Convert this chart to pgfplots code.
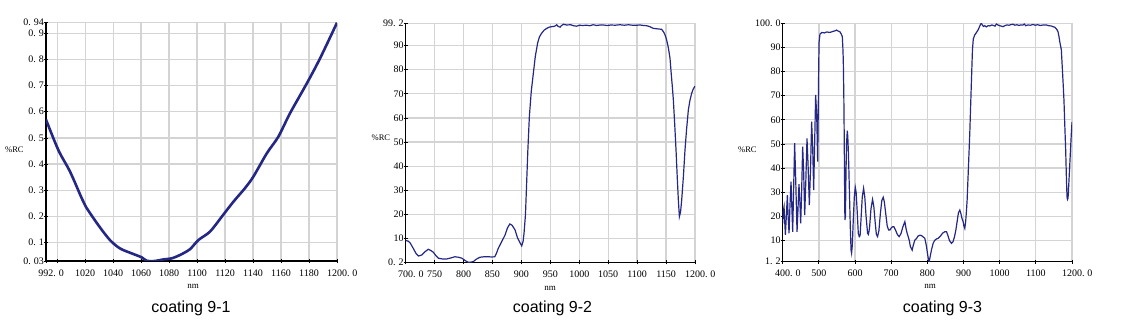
\documentclass[border=0pt]{standalone}
\usepackage{fontspec}
\setmainfont{Liberation Serif}
\newfontfamily\sansf{Liberation Sans}
\usepackage{pgfplots}
\pgfplotsset{compat=1.18}
\definecolor{curve}{RGB}{36,40,132}
\definecolor{gridc}{RGB}{212,212,212}
\newcommand\dt{.\kern0.28em}
\pgfplotsset{
  spec/.style={
    scale only axis,
    axis lines=left,
    axis line style={black, line width=1.4pt, -},
    grid=major,
    grid style={gridc, line width=1.3pt},
    tick style={black, line width=0.8pt},
    major tick length=4pt,
    tick align=center,
    ticklabel style={font=\fontsize{10}{12}\selectfont},
    xticklabel style={anchor=north, yshift=-3pt},
    yticklabel style={anchor=east, xshift=1pt, inner sep=1pt},
    clip=true,
  }
}
\begin{document}
\begin{tikzpicture}
\useasboundingbox (0pt,0pt) rectangle (1121pt,326pt);
% ---------- panel 1 ----------
\begin{axis}[spec, at={(46pt,65pt)}, anchor=south west, width=291pt, height=238.3pt,
  xmin=992, xmax=1200, ymin=0.03, ymax=0.94,
  xtick={992,1000,1020,1040,1060,1080,1100,1120,1140,1160,1180,1200},
  xticklabels={992\rlap{\dt0},,1020,1040,1060,1080,1100,1120,1140,1160,1180,1200\rlap{\dt0}},
  ytick={0.03,0.1,0.2,0.3,0.4,0.5,0.6,0.7,0.8,0.9,0.94},
  yticklabels={0\dt03,0\dt1,0\dt2,0\dt3,0\dt4,0\dt5,0\dt6,0\dt7,0\dt8,0\dt9,0\dt94}]
\addplot[curve, line width=2.6pt, smooth, tension=0.5] coordinates {
(992,0.57) (1000.8,0.454) (1009.2,0.371) (1017.5,0.27) (1020.5,0.237) (1029.4,0.167)
(1037.7,0.11) (1044.9,0.078) (1053.3,0.059) (1060.4,0.044) (1064,0.031) (1069.9,0.03)
(1075.8,0.036) (1081.8,0.04) (1087.8,0.053) (1094.9,0.075) (1100.9,0.11) (1109.2,0.142)
(1117.6,0.199) (1125.9,0.256) (1134.2,0.308) (1140.2,0.352) (1149.8,0.441) (1158.1,0.505)
(1166.4,0.594) (1178.4,0.708) (1187.9,0.804) (1200,0.94)};
\end{axis}
% ---------- panel 2 ----------
\begin{axis}[spec, at={(405.7pt,63.7pt)}, anchor=south west, width=289.3pt, height=239pt,
  xmin=700, xmax=1200, ymin=0.2, ymax=99.2,
  xtick={700,750,800,850,900,950,1000,1050,1100,1150,1200},
  xticklabels={700\rlap{\dt0},750,800,850,900,950,1000,1050,1100,1150,1200\rlap{\dt0}},
  ytick={0.2,10,20,30,40,50,60,70,80,90,99.2},
  yticklabels={0\dt2,10,20,30,40,50,60,70,80,90,99\dt2}]
\addplot[curve, line width=1.2pt] coordinates {
(700,9.2) (704,9.0) (707.5,8.3) (713,6.0) (718,3.8) (722,2.8) (727.6,3.2) (733,4.5) (739,5.6)
(744,5.0) (748,4.3) (752,3.0) (756.5,1.9) (763,1.6) (771,1.6) (778,2.0) (785,2.5) (791,2.3)
(797,1.9) (803,0.9) (808,0.2) (813,0.3) (817,0.5) (822,1.5) (828.5,2.3) (836,2.5) (843,2.5)
(849,2.4) (854,2.5) (857,4.0) (860,6.0) (866,8.8) (871.7,11.5) (876,14.5) (880,16.1) (884,15.5)
(889,13.6) (893,10.5) (896.4,8.8) (900.5,7.0) (903,9) (904.5,12.2) (907,20) (909,32.9) (911,46)
(913.7,60.5) (917,71) (920.6,78.5) (924,85.5) (928,91) (931,93.5) (935,95.1) (939,96.3)
(943.7,97.1) (948,97.6) (952,97.8) (956,97.9) (959,98.2) (961,98.6) (963,98.0) (966.7,97.6)
(969,98.2) (972.5,98.8) (978,98.5) (985,98.6) (990,98.2) (995.5,98.0) (1000,98.4) (1006,98.3)
(1012.8,98.4) (1018,98.2) (1024,98.6) (1030,98.3) (1036,98.5) (1041.6,98.5) (1048,98.3)
(1055,98.5) (1062,98.4) (1070,98.6) (1078,98.4) (1085,98.6) (1092,98.4) (1099,98.4) (1105,98.5)
(1111,98.3) (1116.5,98.2) (1122,97.8) (1128,97.1) (1135,96.9) (1142.4,96.7) (1146,95.5)
(1148.5,94.2) (1151,92.3) (1154,89) (1156.8,84.7) (1159,78) (1160.8,73) (1162.6,67.4) (1165,57)
(1167.2,46.7) (1169.2,36) (1171.2,26) (1173,19.1) (1175,21) (1177,26) (1180,36) (1182.7,46.7)
(1185.5,55.5) (1188.5,63.3) (1191,67) (1194.2,70.2) (1197,72) (1200,73.2)};
\end{axis}
% ---------- panel 3 ----------
\begin{axis}[spec, at={(782.7pt,64.3pt)}, anchor=south west, width=289.3pt, height=238.4pt,
  xmin=400, xmax=1200, ymin=1.2, ymax=100,
  xtick={400,500,600,700,800,900,1000,1100,1200},
  xticklabels={400\rlap{\dt0},500,600,700,800,900,1000,1100,1200\rlap{\dt0}},
  ytick={1.2,10,20,30,40,50,60,70,80,90,100},
  yticklabels={1\dt2,10,20,30,40,50,60,70,80,90,100\dt0}]
\addplot[curve, line width=1.2pt] coordinates {
(400,17.1) (401.5,22) (403.7,24) (405.5,18) (407.4,12.3) (410,20) (412.9,28.8) (415,20)
(417.5,13) (420,24) (423,34.4) (425,25) (427.6,13.6) (430,30) (433,50.3) (436,35) (439.6,13.6)
(442,22) (445,33.3) (447.5,26) (449.7,17.1) (452,28) (455.2,48.9) (458,38) (460.8,20.5) (464,35)
(467.2,52.3) (470,42) (473.6,24.7) (477,40) (480,59.2) (483,48) (485.6,30.9) (488,48) (491.1,70.3)
(494,62) (496.7,42.7) (498,60) (499.4,80) (500.5,92) (503,95.5) (508,96.2) (515,96.0) (522,96.4)
(530.7,96.2) (538,96.6) (545,96.9) (549,97.2) (553,96.8) (558,96.5) (562,95.5) (564.8,94.5)
(566.3,90) (567.5,85) (569,70) (570,54.4) (571,35) (572,18.5) (573.5,20) (575,38) (576.5,50)
(578.6,55.5) (580,53) (582,45) (584.5,30) (587,15) (589,6) (590.5,4.7) (592.5,8) (595,18) (598,28)
(600.7,32) (603,30) (606,22) (609,13) (611.7,11.6) (614,12) (617,20) (620,28) (623.7,31.6) (627,28)
(630.5,20) (634.7,13) (637,12.5) (640,15) (644,23) (648.5,27) (652,24) (656,17) (659,12.5)
(662.3,11.6) (666,14) (670,21) (674,26.5) (678,27.9) (681,26) (685,21) (689,16) (693,14.3)
(696.4,14.3) (700,15.2) (704,15.7) (707.5,15.7) (712,14.3) (717,12.5) (722,11.6) (727,12.8)
(732,15.5) (737.8,17.8) (741,15) (744,13) (747,11.6) (750,10) (753,7.5) (758,6) (761,8) (765.5,10.2)
(770,10.8) (774,11.8) (779.3,12.2) (784,12) (788,11.5) (793,10.9) (797,8) (800,5) (803,2) (805,1.2)
(808,3.5) (812,6.5) (816,8.8) (820,10) (825,10.6) (830,10.9) (836,11.8) (842,13) (848,13.6)
(853,13.6) (857,12) (861,10) (866.7,8.8) (871,9.5) (875,11.5) (878.8,14.3) (883,18.5) (886,21.5)
(889.7,22.6) (893,21) (896,19) (899,17.8) (901,16) (903.5,15) (906,18) (908,22) (910,26.8) (913,38)
(917.3,54.4) (921,72) (924.7,89) (927,93.5) (931.1,95.2) (935,96) (940.4,97.3) (944,98.5)
(947,99.6) (949.4,100) (952,99.3) (955,98.7) (958.6,99) (963,98.5) (968,99) (973,98.9) (978,99.3)
(983,99.1) (987,98.8) (990.9,99.7) (995,99.3) (1000,99.0) (1005,98.8) (1009.4,98.6) (1014,99)
(1020,99.3) (1026,99.2) (1032,99.5) (1037,99.6) (1042,99.2) (1048,99.4) (1053,99.1) (1058,99.3)
(1064.6,99.3) (1068,99.7) (1072,99.0) (1078,99.3) (1085,99.2) (1092,99.5) (1098,99.2) (1105,99.4)
(1112,99.1) (1120,99.3) (1129,99.3) (1136,99.0) (1142,98.9) (1147.5,98.6) (1152,98.4) (1156,97.8)
(1159,97.2) (1161.3,96.5) (1164,94.5) (1166,92.5) (1168,91) (1170.5,89) (1173,82) (1175.5,75)
(1177.8,68) (1180,58) (1182.5,47.5) (1184.5,36) (1186.2,28) (1187.5,27) (1189,27.5) (1191,33)
(1193.5,40.5) (1196,48) (1198,54) (1200,59)};
\end{axis}
% ---------- labels ----------
\node[font=\fontsize{8.5}{9}\selectfont, anchor=west, inner sep=0] at (5pt,176pt) {\%RC};
\node[font=\fontsize{8.5}{9}\selectfont, anchor=west, inner sep=0] at (371.5pt,188pt) {\%RC};
\node[font=\fontsize{8.5}{9}\selectfont, anchor=west, inner sep=0] at (738pt,176pt) {\%RC};
\node[font=\fontsize{9}{10}\selectfont] at (193pt,40pt) {nm};
\node[font=\fontsize{9}{10}\selectfont] at (550pt,38pt) {nm};
\node[font=\fontsize{9}{10}\selectfont] at (930pt,40pt) {nm};
\node[font=\sansf\fontsize{16}{18}\selectfont, anchor=base] at (191pt,13pt) {coating 9-1};
\node[font=\sansf\fontsize{16}{18}\selectfont, anchor=base] at (552.5pt,13pt) {coating 9-2};
\node[font=\sansf\fontsize{16}{18}\selectfont, anchor=base] at (942.5pt,13pt) {coating 9-3};
\end{tikzpicture}
\end{document}
